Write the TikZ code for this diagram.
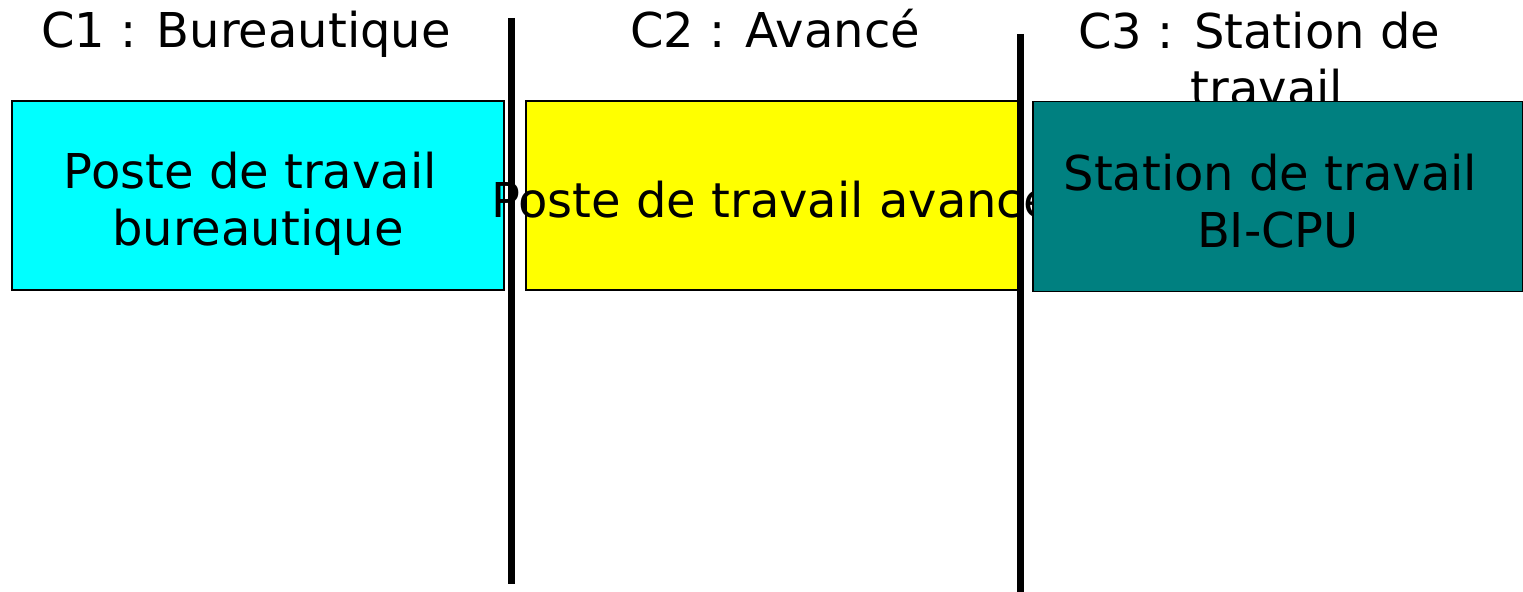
\documentclass[tikz,border=0pt]{standalone}
\usepackage{fontspec}
\setmainfont{DejaVu Sans}
\definecolor{cyanvif}{RGB}{0,255,255}
\definecolor{jaune}{RGB}{255,255,0}
\definecolor{sarcelle}{RGB}{0,128,128}
\begin{document}
\begin{tikzpicture}[x=0.75pt,y=-0.75pt,font=\fontsize{36pt}{42.75pt}\selectfont]
\tikzset{
  titre/.style={anchor=base,align=center},
  poste/.style={draw=black,line width=1pt,inner sep=0pt,
    minimum width=369pt,minimum height=141.75pt},
  separ/.style={line width=5.25pt}
}
\useasboundingbox (0,0) rectangle (1523,592);

% titres
\node[titre] (t1) at (246,48) {C1 : Bureautique};
\node[titre] (t2) at (775,48) {C2 : Avancé};
\node[titre] (t3) at (1267,105) {C3 : Station de\hspace*{.32em}\\travail};

% postes
\node[poste,fill=cyanvif] (p1) at (258,195.5) {};
\node[titre] (l1) at (258,245) {Poste de travail\hspace*{.32em}\\bureautique};

\node[poste,fill=jaune] (p2) at (772,195.5) {};
\node[titre] (l2) at (772,217) {Poste de travail avancé};

\node[poste,fill=sarcelle,minimum width=367.5pt,minimum height=142.5pt] (p3) at (1278,196.5) {};
\node[titre] (l3) at (1278,247) {Station de travail\hspace*{.32em}\\BI-CPU};

% separations
\coordinate (s1a) at (511,18);
\coordinate (s1b) at (511,584);
\coordinate (s2a) at (1020,34);
\coordinate (s2b) at (1020,592);
\draw[separ] (s1a) -- (s1b);
\draw[separ] (s2a) -- (s2b);

\end{tikzpicture}
\end{document}
